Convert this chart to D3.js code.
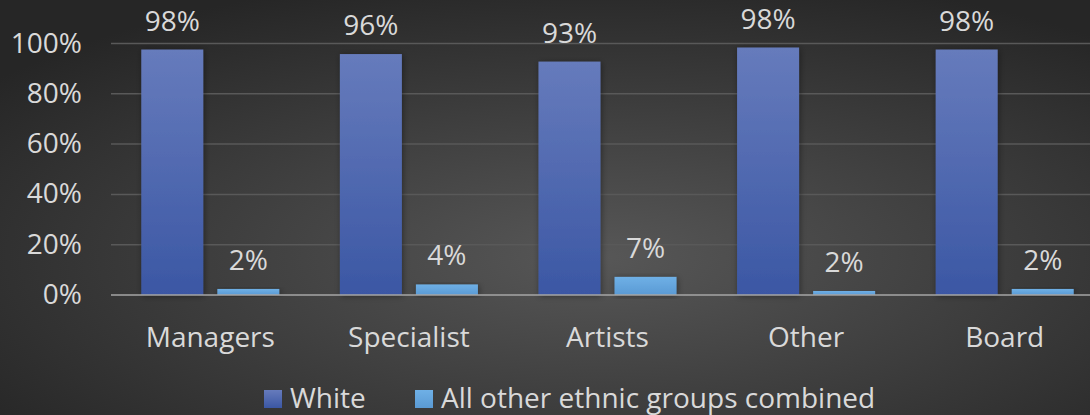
<!DOCTYPE html>
<html>
<head>
<meta charset="utf-8">
<script src="https://cdn.jsdelivr.net/npm/d3@7"></script>
<style>
  html, body { margin: 0; padding: 0; background: #333; }
  svg { display: block; }
  text { font-family: "Open Sans", Lato, sans-serif; fill: #d9d9d9; }
</style>
</head>
<body>
<div id="chart"></div>
<script>
// Chart data
const categories = ['Managers', 'Specialist', 'Artists', 'Other', 'Board'];
const seriesNames = ['White', 'All other ethnic groups combined'];
const whiteValues = [0.976, 0.958, 0.928, 0.984, 0.976];
const otherValues = [0.024, 0.042, 0.072, 0.016, 0.024];
const yTicks = [0, 0.2, 0.4, 0.6, 0.8, 1.0];

const width = 1090, height = 415;
const margin = { top: 43.5, right: -14, bottom: 120, left: 111 };
const innerW = width - margin.left - margin.right;
const innerH = height - margin.top - margin.bottom;
const fontSize = '28px';

const svg = d3.select('#chart').append('svg')
    .attr('width', width)
    .attr('height', height);

const defs = svg.append('defs');

// Background radial gradient
const bg = defs.append('radialGradient')
    .attr('id', 'bg')
    .attr('cx', '55%').attr('cy', '62%').attr('r', '70%');
bg.append('stop').attr('offset', '0%').attr('stop-color', '#575757');
bg.append('stop').attr('offset', '100%').attr('stop-color', '#262626');

// Bar gradients
const g1 = defs.append('linearGradient').attr('id', 'barWhite')
    .attr('x1', 0).attr('y1', 0).attr('x2', 0).attr('y2', 1);
g1.append('stop').attr('offset', '0%').attr('stop-color', '#667bbc');
g1.append('stop').attr('offset', '100%').attr('stop-color', '#3b57a4');

const g2 = defs.append('linearGradient').attr('id', 'barOther')
    .attr('x1', 0).attr('y1', 0).attr('x2', 0).attr('y2', 1);
g2.append('stop').attr('offset', '0%').attr('stop-color', '#6fb0e6');
g2.append('stop').attr('offset', '100%').attr('stop-color', '#5a9ad4');

const shadow = defs.append('filter').attr('id', 'shadow')
    .attr('x', '-20%').attr('y', '-20%').attr('width', '140%').attr('height', '140%');
shadow.append('feDropShadow')
    .attr('dx', 1).attr('dy', 1).attr('stdDeviation', 3)
    .attr('flood-color', '#000').attr('flood-opacity', 0.4);

svg.append('rect')
    .attr('width', width).attr('height', height)
    .attr('fill', 'url(#bg)');

const g = svg.append('g')
    .attr('transform', `translate(${margin.left},${margin.top})`);

// Scales
const x0 = d3.scaleBand()
    .domain(categories)
    .range([0, innerW])
    .paddingInner(0.305)
    .paddingOuter(0.1525);

const x1 = d3.scaleBand()
    .domain(seriesNames)
    .range([0, x0.bandwidth()])
    .paddingInner(0.185);

const y = d3.scaleLinear()
    .domain([0, 1])
    .range([innerH, 0]);

const color = d3.scaleOrdinal()
    .domain(seriesNames)
    .range(['url(#barWhite)', 'url(#barOther)']);

// Gridlines
g.append('g')
    .selectAll('line')
    .data(yTicks.filter(t => t > 0))
    .enter().append('line')
    .attr('x1', 0).attr('x2', innerW)
    .attr('y1', d => y(d)).attr('y2', d => y(d))
    .attr('stroke', '#595959')
    .attr('stroke-width', 1.5);

// Y tick labels
g.append('g')
    .selectAll('text')
    .data(yTicks)
    .enter().append('text')
    .attr('x', -29)
    .attr('y', d => y(d) + 9)
    .attr('text-anchor', 'end')
    .attr('font-size', fontSize)
    .text(d => d3.format('.0%')(d));

// Bars
const rows = categories.map((c, i) => ({
    category: c,
    values: [
        { series: seriesNames[0], value: whiteValues[i] },
        { series: seriesNames[1], value: otherValues[i] }
    ]
}));

const groups = g.append('g')
    .selectAll('.group')
    .data(rows)
    .enter().append('g')
    .attr('class', 'group')
    .attr('transform', d => `translate(${x0(d.category)},0)`);

groups.selectAll('rect')
    .data(d => d.values)
    .enter().append('rect')
    .attr('x', d => x1(d.series))
    .attr('y', d => y(d.value))
    .attr('width', x1.bandwidth())
    .attr('height', d => innerH - y(d.value))
    .attr('fill', d => color(d.series))
    .attr('filter', 'url(#shadow)');

groups.selectAll('.label')
    .data(d => d.values)
    .enter().append('text')
    .attr('class', 'label')
    .attr('x', d => x1(d.series) + x1.bandwidth() / 2)
    .attr('y', d => y(d.value) - 19)
    .attr('text-anchor', 'middle')
    .attr('font-size', fontSize)
    .text(d => d3.format('.0%')(d.value));

// Axis line
g.append('line')
    .attr('x1', 0).attr('x2', innerW)
    .attr('y1', innerH).attr('y2', innerH)
    .attr('stroke', '#a6a6a6')
    .attr('stroke-width', 1.5);

// Category labels
g.append('g')
    .selectAll('text')
    .data(categories)
    .enter().append('text')
    .attr('x', d => x0(d) + x0.bandwidth() / 2)
    .attr('y', innerH + 52)
    .attr('text-anchor', 'middle')
    .attr('font-size', fontSize)
    .text(d => d);

// Legend
const legendItems = [
    { name: seriesNames[0], x: 264 },
    { name: seriesNames[1], x: 415 }
];
const legend = svg.append('g');
legend.selectAll('rect')
    .data(legendItems)
    .enter().append('rect')
    .attr('x', d => d.x)
    .attr('y', 390)
    .attr('width', 18).attr('height', 18)
    .attr('fill', (d, i) => color(seriesNames[i]));
legend.selectAll('text')
    .data(legendItems)
    .enter().append('text')
    .attr('x', d => d.x + 26)
    .attr('y', 408)
    .attr('font-size', fontSize)
    .text(d => d.name);
</script>
</body>
</html>
